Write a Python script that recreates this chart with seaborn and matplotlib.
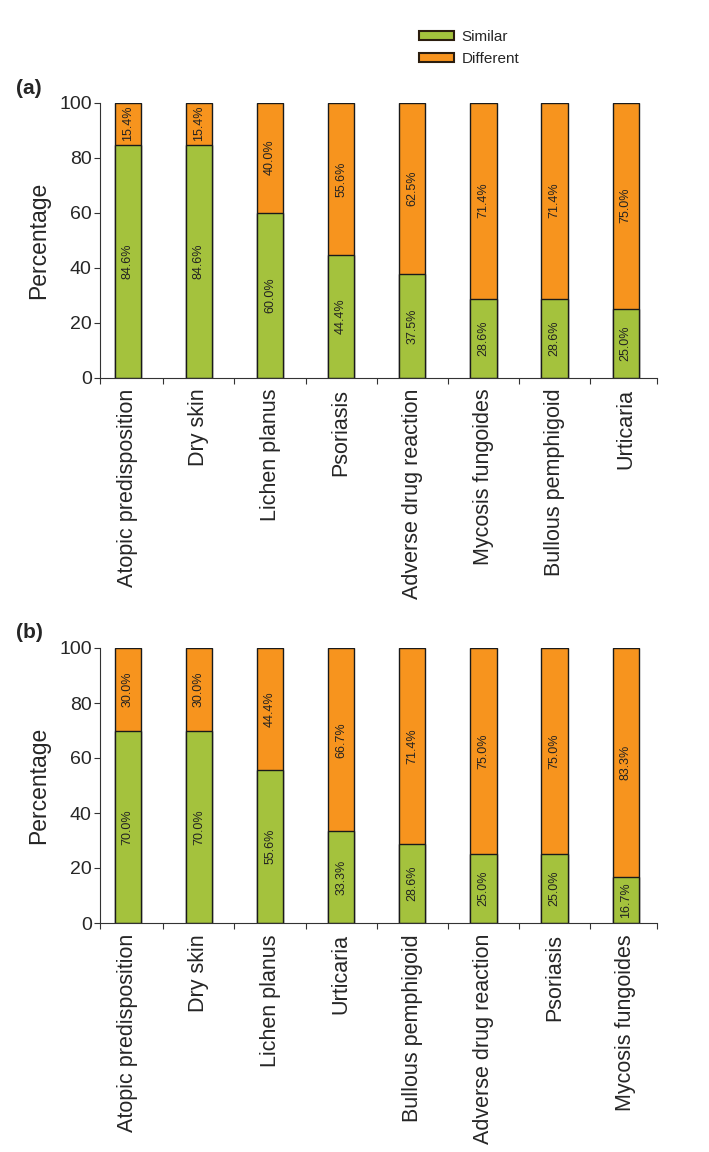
import matplotlib
matplotlib.use("Agg")
import matplotlib.pyplot as plt
from matplotlib.patches import Patch
from matplotlib.ticker import FixedLocator
import seaborn as sns
import pandas as pd

cats_a = ["Atopic predisposition", "Dry skin", "Lichen planus", "Psoriasis",
          "Adverse drug reaction", "Mycosis fungoides", "Bullous pemphigoid", "Urticaria"]
similar_a = [84.6, 84.6, 60.0, 44.4, 37.5, 28.6, 28.6, 25.0]
different_a = [15.4, 15.4, 40.0, 55.6, 62.5, 71.4, 71.4, 75.0]

cats_b = ["Atopic predisposition", "Dry skin", "Lichen planus", "Urticaria",
          "Bullous pemphigoid", "Adverse drug reaction", "Psoriasis", "Mycosis fungoides"]
similar_b = [70.0, 70.0, 55.6, 33.3, 28.6, 25.0, 25.0, 16.7]
different_b = [30.0, 30.0, 44.4, 66.7, 71.4, 75.0, 75.0, 83.3]

y_ticks = [0, 20, 40, 60, 80, 100]
series_names = ["Similar", "Different"]

GREEN = "#A4C23D"
ORANGE = "#F7941E"
EDGE = "#1a1a1a"

sns.set_style("ticks")
plt.rcParams["font.family"] = ["Liberation Sans", "DejaVu Sans"]

fig = plt.figure(figsize=(7.09, 11.52), dpi=100)

W, H = 709, 1152
def axes_rect(top_px, bottom_px, left_px=100, right_px=657):
    return [left_px / W, 1 - bottom_px / H, (right_px - left_px) / W, (bottom_px - top_px) / H]

ax_a = fig.add_axes(axes_rect(102.5, 377.5))
ax_b = fig.add_axes(axes_rect(648, 923))

def draw(ax, cats, sim, dif):
    df = pd.DataFrame({"cat": cats, "similar": sim, "different": dif})
    df["total"] = df["similar"] + df["different"]
    sns.barplot(data=df, x="cat", y="total", order=cats, color=ORANGE, saturation=1,
                width=0.37, edgecolor=EDGE, linewidth=1.0, errorbar=None, ax=ax)
    sns.barplot(data=df, x="cat", y="similar", order=cats, color=GREEN, saturation=1,
                width=0.37, edgecolor=EDGE, linewidth=1.0, errorbar=None, ax=ax)
    for i, (s, d) in enumerate(zip(sim, dif)):
        ax.text(i, s / 2, f"{s:.1f}%", rotation=90, ha="center", va="center",
                fontsize=9, color="#222222")
        ax.text(i, s + d / 2, f"{d:.1f}%", rotation=90, ha="center", va="center",
                fontsize=9, color="#222222")
    n = len(cats)
    left, right = -0.39, n - 1 + 0.44
    ax.set_xlim(left, right)
    ax.set_ylim(0, 100)
    ax.set_yticks(y_ticks)
    ax.set_xticks(range(n))
    ax.set_xticklabels(cats, rotation=90, fontsize=15.5)
    ax.xaxis.set_minor_locator(FixedLocator([left] + [i + 0.5 for i in range(n - 1)] + [right]))
    ax.tick_params(axis="x", which="major", length=0, pad=8)
    ax.tick_params(axis="x", which="minor", length=4, width=0.8, direction="out", color="#333333")
    ax.tick_params(axis="y", which="major", length=4, width=0.8, pad=2, labelsize=14, color="#333333")
    ax.set_xlabel("")
    ax.set_ylabel("Percentage", fontsize=16.5)
    ax.yaxis.set_label_coords(-0.09, 0.5)
    sns.despine(ax=ax)
    for sp in ["left", "bottom"]:
        ax.spines[sp].set_linewidth(0.8)
        ax.spines[sp].set_color("#333333")

draw(ax_a, cats_a, similar_a, different_a)
draw(ax_b, cats_b, similar_b, different_b)

fig.text(16 / W, 1 - 88 / H, "(a)", fontsize=15, fontweight="bold", va="center", ha="left")
fig.text(16 / W, 1 - 633 / H, "(b)", fontsize=15, fontweight="bold", va="center", ha="left")

handles = [Patch(facecolor=GREEN, edgecolor="#2b1d0e", linewidth=1.5),
           Patch(facecolor=ORANGE, edgecolor="#2b1d0e", linewidth=1.5)]
fig.legend(handles, series_names, loc="upper left", bbox_to_anchor=(419 / W, 1 - 30 / H),
           frameon=False, fontsize=11, handlelength=2.3, handleheight=0.55,
           handletextpad=0.5, labelspacing=0.5, borderpad=0, borderaxespad=0)

fig.savefig("out.png", dpi=100)
